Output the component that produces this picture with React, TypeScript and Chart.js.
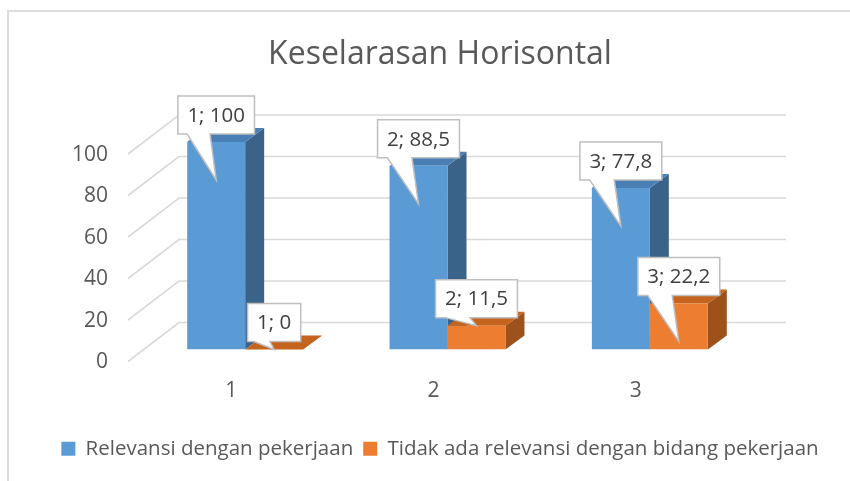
import React, { useEffect, useRef } from 'react';
import { Chart, registerables } from 'chart.js';

Chart.register(...registerables);

// ---- data ----
const categories = ['1', '2', '3'];
const relevansi = [100, 88.5, 77.8];
const tidakRelevansi = [0, 11.5, 22.2];
const seriesNames = ['Relevansi dengan pekerjaan', 'Tidak ada relevansi dengan bidang pekerjaan'];
const titleText = 'Keselarasan Horisontal';
const yMin = 0;
const yMax = 100;
const yStep = 20;

// ---- style ----
const FONT = '"Open Sans", "Noto Sans", sans-serif';
const FRONT = ['#5b9bd5', '#ed7d31'];
const TOP = ['#4a7fb5', '#c4641f'];
const SIDE = ['#3b6389', '#9d511b'];
const DEPTH = { dx: 19, dy: 14 };
const WALL = { dx: 35, dy: 27 };
const LABELPLANE = { dx: -16, dy: 12 };

const fmt = (v: number) => String(v).replace('.', ',');

const threeD = {
  id: 'threeD',
  beforeDraw(chart: any) {
    const { ctx } = chart;
    ctx.save();
    ctx.fillStyle = '#dcdcdc';
    ctx.fillRect(7, 10, 2, 481);
    ctx.fillRect(7, 10, 850, 2);
    ctx.restore();
  },
  beforeDatasetsDraw(chart: any) {
    const { ctx, chartArea, scales } = chart;
    const ys = scales.y;
    ctx.save();
    ctx.strokeStyle = '#d9d9d9';
    ctx.lineWidth = 1.6;
    for (let v = yMin; v <= yMax; v += yStep) {
      const py = ys.getPixelForValue(v);
      ctx.beginPath();
      ctx.moveTo(chartArea.left + LABELPLANE.dx, py + LABELPLANE.dy);
      ctx.lineTo(chartArea.left + WALL.dx, py - WALL.dy);
      ctx.lineTo(chartArea.right + WALL.dx, py - WALL.dy);
      ctx.stroke();
    }
    const metas = chart.getSortedVisibleDatasetMetas();
    for (let i = 0; i < categories.length; i++) {
      metas.forEach((meta: any, di: number) => {
        const bar = meta.data[i];
        if (!bar) return;
        const { x, y, base, width } = bar.getProps(['x', 'y', 'base', 'width'], true);
        const l = x - width / 2;
        const r = x + width / 2;
        ctx.fillStyle = SIDE[di];
        ctx.beginPath();
        ctx.moveTo(r, y);
        ctx.lineTo(r + DEPTH.dx, y - DEPTH.dy);
        ctx.lineTo(r + DEPTH.dx, base - DEPTH.dy);
        ctx.lineTo(r, base);
        ctx.closePath();
        ctx.fill();
        ctx.fillStyle = TOP[di];
        ctx.beginPath();
        ctx.moveTo(l, y);
        ctx.lineTo(l + DEPTH.dx, y - DEPTH.dy);
        ctx.lineTo(r + DEPTH.dx, y - DEPTH.dy);
        ctx.lineTo(r, y);
        ctx.closePath();
        ctx.fill();
      });
    }
    ctx.restore();
  },
  afterDatasetsDraw(chart: any) {
    const { ctx } = chart;
    const metas = chart.getSortedVisibleDatasetMetas();
    ctx.save();
    ctx.font = `20.5px ${FONT}`;
    metas.forEach((meta: any) => {
      const data = chart.data.datasets[meta.index].data as number[];
      meta.data.forEach((bar: any, i: number) => {
        const { x, y, base } = bar.getProps(['x', 'y', 'base'], true);
        const text = `${categories[i]}; ${fmt(data[i])}`;
        const tw = ctx.measureText(text).width;
        const w = tw + 19;
        const h = 38;
        const bx = x - w / 2;
        const by = y - 8 - h;
        const tipX = x;
        const tipY = base - y > 40 ? y + 38 : y;
        ctx.beginPath();
        ctx.moveTo(bx, by);
        ctx.lineTo(bx + w, by);
        ctx.lineTo(bx + w, by + h);
        ctx.lineTo(bx + w * 0.42, by + h);
        ctx.lineTo(tipX, tipY);
        ctx.lineTo(bx + w * 0.12, by + h);
        ctx.lineTo(bx, by + h);
        ctx.closePath();
        ctx.fillStyle = '#ffffff';
        ctx.fill();
        ctx.strokeStyle = '#bfbfbf';
        ctx.lineWidth = 1.5;
        ctx.stroke();
        ctx.fillStyle = '#404040';
        ctx.textAlign = 'center';
        ctx.textBaseline = 'middle';
        ctx.fillText(text, bx + w / 2, by + h / 2 + 1);
      });
    });
    ctx.restore();
  },
};

export default function App() {
  const ref = useRef<HTMLCanvasElement | null>(null);
  useEffect(() => {
    document.body.style.margin = '0';
    document.body.style.overflow = 'hidden';
    const canvas = ref.current!;
    const chart = new Chart(canvas, {
      type: 'bar',
      data: {
        labels: categories,
        datasets: [
          {
            label: seriesNames[0],
            data: relevansi,
            backgroundColor: FRONT[0],
            borderWidth: 0,
            barPercentage: 1,
            categoryPercentage: 0.573,
          },
          {
            label: seriesNames[1],
            data: tidakRelevansi,
            backgroundColor: FRONT[1],
            borderWidth: 0,
            barPercentage: 1,
            categoryPercentage: 0.573,
          },
        ],
      },
      options: {
        responsive: false,
        animation: false,
        devicePixelRatio: 1,
        layout: { padding: { left: 30, right: 0, top: 0, bottom: 12 } },
        font: { family: FONT },
        plugins: {
          title: {
            display: true,
            text: titleText,
            color: '#595959',
            font: { family: FONT, size: 32, weight: 'normal' },
            padding: { top: 36, bottom: 67.6 },
          },
          legend: {
            display: true,
            position: 'bottom',
            labels: {
              boxWidth: 14,
              boxHeight: 14,
              padding: 10,
              color: '#595959',
              font: { family: FONT, size: 20.5 },
            },
          },
          tooltip: { enabled: false },
        },
        scales: {
          x: {
            type: 'category',
            offset: true,
            grid: { display: false, drawTicks: false },
            border: { display: false },
            ticks: {
              color: '#595959',
              font: { family: FONT, size: 21 },
              padding: 29,
              labelOffset: -14,
            },
            afterFit: (s: any) => {
              s.height = 79;
            },
          },
          y: {
            min: yMin,
            max: yMax,
            grid: { display: false, drawTicks: false },
            border: { display: false },
            ticks: {
              stepSize: yStep,
              color: '#595959',
              font: { family: FONT, size: 21 },
              padding: 36,
              labelOffset: 13,
            },
            afterFit: (s: any) => {
              s.width = 114;
            },
          },
          yr: {
            position: 'right',
            display: true,
            grid: { display: false, drawTicks: false },
            border: { display: false },
            ticks: { display: false },
            afterFit: (s: any) => {
              s.width = 99;
            },
          },
        },
      } as any,
      plugins: [threeD],
    });
    return () => chart.destroy();
  }, []);
  return (
    <div style={{ width: 850, height: 481 }}>
      <canvas ref={ref} width={850} height={481} style={{ display: 'block' }} />
    </div>
  );
}
